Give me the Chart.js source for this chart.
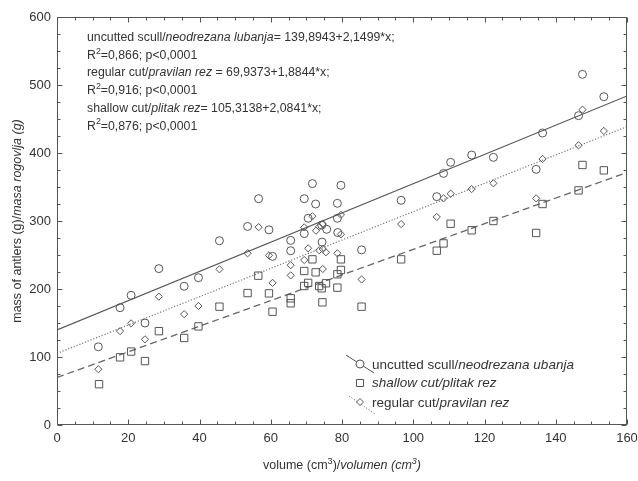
<!DOCTYPE html>
<html>
<head>
<script src="https://cdn.jsdelivr.net/npm/chart.js"></script>
<style>
  body { margin: 0; background: #fff; }
  #wrap { width: 638px; height: 481px; }
</style>
</head>
<body>
<div id="wrap"><canvas id="c"></canvas></div>
<script>
// circles - uncutted scull
var uncuttedVol  = [11.6, 17.7, 20.8, 24.7, 28.6, 35.7, 39.7, 45.6, 53.5, 56.6, 59.5, 60.5, 65.6, 65.6, 69.4, 69.4, 70.5, 71.7, 72.6, 74.3, 75.7, 74.4, 78.7, 78.7, 78.8, 79.7, 85.5, 96.6, 106.6, 108.5, 110.5, 116.4, 122.5, 134.5, 136.3, 146.4, 147.5, 153.5];
var uncuttedMass = [115, 172.5, 190.7, 150, 230, 204, 216.6, 271, 292, 332.8, 287, 248, 271.5, 256.3, 332.8, 281.5, 304, 355, 325, 294, 287.8, 269, 326, 304, 283, 352.5, 257.5, 330.4, 335.8, 370, 386.3, 397, 393.6, 376, 429.4, 454.9, 515.7, 482.8];

// diamonds - regular cut
var regularVol  = [11.6, 17.7, 20.8, 24.7, 28.6, 35.7, 39.7, 45.6, 53.5, 56.6, 59.5, 60.5, 65.6, 65.6, 69.4, 69.4, 70.5, 71.7, 72.7, 73.6, 74.6, 73.6, 74.6, 75.5, 74.6, 78.7, 79.7, 79.7, 85.5, 96.6, 106.6, 108.5, 110.5, 116.4, 122.5, 134.5, 136.3, 146.4, 147.5, 153.5];
var regularMass = [82, 138, 149.5, 126, 188.7, 163, 175, 229, 252.5, 291, 249.5, 209, 235, 220, 290.7, 242.6, 259.8, 307, 285.7, 291.6, 295.6, 257, 258.8, 254, 229.4, 252.5, 309, 280.4, 214, 295.5, 305.9, 333.3, 340.2, 347, 355.4, 333.3, 391.2, 411.3, 463.7, 432.4];

// squares - shallow cut
var shallowVol  = [11.8, 17.7, 20.8, 24.7, 28.6, 35.7, 39.7, 45.6, 53.5, 56.5, 59.5, 60.5, 65.6, 65.6, 69.4, 69.4, 70.5, 71.7, 72.6, 73.6, 74.3, 75.5, 74.5, 78.7, 78.7, 79.7, 79.7, 85.5, 96.6, 106.6, 108.5, 110.5, 116.4, 122.5, 134.5, 136.3, 146.4, 147.5, 153.5];
var shallowMass = [60, 99.5, 108, 94, 138, 128, 145, 174, 194, 219.6, 193.6, 166.6, 186.3, 179, 226.5, 204.4, 209, 243.6, 224.5, 204.4, 201, 208.4, 180.4, 221.6, 202, 243.6, 228, 174, 243.6, 256.3, 267, 296, 286.3, 300, 282.4, 325, 345, 382.4, 374.5];

// regression lines, value at x = 0 and x = 160
var fitVol = [0, 160];
var uncuttedFit = [139.9, 483.9];
var dottedFit = [105.3, 438.8];
var dashedFit = [69.9, 371.4];

var xTicks = [0, 20, 40, 60, 80, 100, 120, 140, 160];
var yTicks = [0, 100, 200, 300, 400, 500, 600];

var INK = "#555";
var TXT = "#333";
var FONT = "'Liberation Sans', Arial, sans-serif";

function pts(xs, ys) {
  return xs.map(function (v, i) { return { x: v, y: ys[i] }; });
}

function richText(ctx, x, y, parts, size) {
  parts.forEach(function (p) {
    var sup = p[2];
    ctx.font = (p[1] ? "italic " : "") + (sup ? size * 0.72 : size) + "px " + FONT;
    ctx.fillText(p[0], x, sup ? y - size * 0.42 : y);
    x += ctx.measureText(p[0]).width;
  });
  return x;
}
function richWidth(ctx, parts, size) {
  var w = 0;
  parts.forEach(function (p) {
    ctx.font = (p[1] ? "italic " : "") + (p[2] ? size * 0.72 : size) + "px " + FONT;
    w += ctx.measureText(p[0]).width;
  });
  return w;
}

var decor = {
  id: "decor",
  afterDatasetsDraw: function (chart) {
    var ctx = chart.ctx, a = chart.chartArea, sx = chart.scales.x, sy = chart.scales.y;
    ctx.save();
    ctx.strokeStyle = INK;
    ctx.lineWidth = 1;
    var L = Math.round(a.left) + 0.5, R = Math.round(a.right) - 0.5;
    var T = Math.round(a.top) + 0.5, B = Math.round(a.bottom) - 0.5;
    ctx.strokeRect(L, T, R - L, B - T);
    ctx.beginPath();
    for (var v = 0; v <= 160; v += 5) {
      var px = Math.round(sx.getPixelForValue(v)) + 0.5;
      var len = v % 20 === 0 ? 5 : 3;
      ctx.moveTo(px, B); ctx.lineTo(px, B - len);
      ctx.moveTo(px, T); ctx.lineTo(px, T + len);
    }
    for (var w = 0; w <= 600; w += 25) {
      var py = Math.round(sy.getPixelForValue(w)) + 0.5;
      var l2 = w % 100 === 0 ? 5 : 3;
      ctx.moveTo(L, py); ctx.lineTo(L + l2, py);
      ctx.moveTo(R, py); ctx.lineTo(R - l2, py);
    }
    ctx.stroke();

    // equations
    ctx.fillStyle = TXT;
    ctx.textBaseline = "alphabetic";
    ctx.textAlign = "left";
    var eq = [
      [["uncutted scull/"], ["neodrezana lubanja", 1], ["= 139,8943+2,1499*x;"]],
      [["R"], ["2", 0, 1], ["=0,866; p<0,0001"]],
      [["regular cut/"], ["pravilan rez", 1], [" = 69,9373+1,8844*x;"]],
      [["R"], ["2", 0, 1], ["=0,916; p<0,0001"]],
      [["shallow cut/"], ["plitak rez", 1], ["= 105,3138+2,0841*x;"]],
      [["R"], ["2", 0, 1], ["=0,876; p<0,0001"]]
    ];
    eq.forEach(function (line, i) {
      richText(ctx, 87, 41 + i * 17.7, line, 12.3);
    });

    // legend
    ctx.strokeStyle = INK;
    ctx.lineWidth = 1;
    ctx.beginPath(); ctx.moveTo(346, 355); ctx.lineTo(374, 373); ctx.stroke();
    ctx.fillStyle = "#fff";
    ctx.beginPath(); ctx.arc(360, 364, 4, 0, Math.PI * 2); ctx.fill(); ctx.stroke();
    ctx.beginPath(); ctx.rect(356.5, 379.5, 7, 7); ctx.fill(); ctx.stroke();
    ctx.setLineDash([1, 2]);
    ctx.beginPath(); ctx.moveTo(349, 396); ctx.lineTo(375, 414); ctx.stroke();
    ctx.setLineDash([]);
    ctx.beginPath();
    ctx.moveTo(360, 398.5); ctx.lineTo(363.5, 402); ctx.lineTo(360, 405.5); ctx.lineTo(356.5, 402); ctx.closePath();
    ctx.fill(); ctx.stroke();
    ctx.fillStyle = TXT;
    richText(ctx, 372, 368.5, [["uncutted scull/"], ["neodrezana ubanja", 1]], 13.5);
    richText(ctx, 372, 387, [["shallow cut/plitak rez", 1]], 13.5);
    richText(ctx, 372, 406.5, [["regular cut/"], ["pravilan rez", 1]], 13.5);

    // axis titles
    var xt = [["volume (cm"], ["3", 0, 1], [")/"], ["volumen (cm", 1], ["3", 1, 1], [")", 1]];
    var xw = richWidth(ctx, xt, 12.5);
    richText(ctx, (a.left + a.right) / 2 - xw / 2, 469, xt, 12.5);
    var yt = [["mass of antlers (g)/"], ["masa rogovlja (g)", 1]];
    var yw = richWidth(ctx, yt, 12.5);
    ctx.translate(21, (a.top + a.bottom) / 2);
    ctx.rotate(-Math.PI / 2);
    richText(ctx, -yw / 2, 0, yt, 12.5);
    ctx.restore();
  }
};

new Chart(document.getElementById("c").getContext("2d"), {
  type: "scatter",
  data: {
    datasets: [
      {
        label: "uncutted scull",
        data: pts(uncuttedVol, uncuttedMass),
        pointStyle: "circle",
        pointRadius: 4,
        borderColor: INK,
        backgroundColor: "rgba(0,0,0,0)",
        borderWidth: 1
      },
      {
        label: "shallow cut",
        data: pts(shallowVol, shallowMass),
        pointStyle: "rect",
        pointRadius: 5.2,
        borderColor: INK,
        backgroundColor: "rgba(0,0,0,0)",
        borderWidth: 1
      },
      {
        label: "regular cut",
        data: pts(regularVol, regularMass),
        pointStyle: "rectRot",
        pointRadius: 3.6,
        borderColor: INK,
        backgroundColor: "rgba(0,0,0,0)",
        borderWidth: 1
      },
      {
        label: "fit uncutted",
        data: pts(fitVol, uncuttedFit),
        showLine: true,
        pointRadius: 0,
        borderColor: INK,
        borderWidth: 1.2
      },
      {
        label: "fit dotted",
        data: pts(fitVol, dottedFit),
        showLine: true,
        pointRadius: 0,
        borderColor: "#777",
        borderWidth: 1.2,
        borderDash: [1.2, 1.8]
      },
      {
        label: "fit dashed",
        data: pts(fitVol, dashedFit),
        showLine: true,
        pointRadius: 0,
        borderColor: "#666",
        borderWidth: 1.3,
        borderDash: [7, 4]
      }
    ]
  },
  options: {
    responsive: true,
    maintainAspectRatio: false,
    animation: false,
    layout: { padding: { top: 17, right: 11, left: 0, bottom: 0 } },
    plugins: { legend: { display: false }, tooltip: { enabled: false } },
    scales: {
      x: {
        type: "linear",
        min: 0,
        max: 160,
        afterBuildTicks: function (s) { s.ticks = xTicks.map(function (v) { return { value: v }; }); },
        afterFit: function (s) { s.height = 56; s.paddingLeft = 0; s.paddingRight = 0; },
        grid: { display: false, drawTicks: false },
        border: { display: false },
        ticks: { color: TXT, font: { family: FONT, size: 13 }, padding: 6, maxRotation: 0 }
      },
      y: {
        type: "linear",
        min: 0,
        max: 600,
        afterBuildTicks: function (s) { s.ticks = yTicks.map(function (v) { return { value: v }; }); },
        afterFit: function (s) { s.width = 57; s.paddingTop = 0; s.paddingBottom = 0; },
        grid: { display: false, drawTicks: false },
        border: { display: false },
        ticks: { color: TXT, font: { family: FONT, size: 13 }, padding: 6 }
      }
    }
  },
  plugins: [decor]
});
</script>
</body>
</html>
